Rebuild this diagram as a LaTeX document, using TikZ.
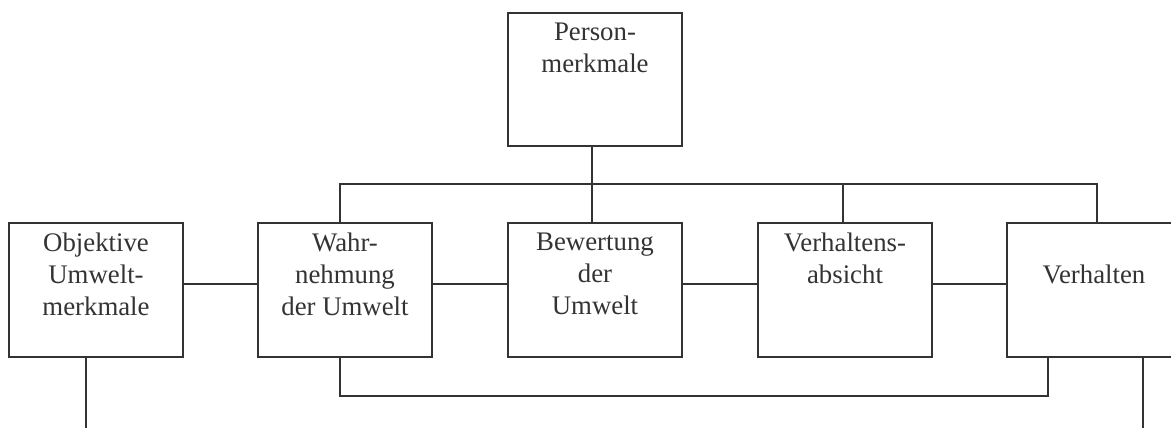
\documentclass[tikz,border=0pt]{standalone}
\usepackage{fontspec}
\setmainfont{Liberation Serif}
\definecolor{ink}{HTML}{333333}
\begin{document}
\begin{tikzpicture}[x=1pt,y=-1pt,
  box/.style={draw=ink, line width=2.3pt, minimum width=174pt, minimum height=134pt, inner sep=0pt},
  lbl/.style={text=ink, font=\fontsize{26.8}{32}\selectfont, align=center, anchor=north, inner sep=0pt},
  wire/.style={draw=ink, line width=2.3pt}]
\useasboundingbox (0,0) rectangle (1171,428);
\clip (0,0) rectangle (1171,428);
% boxes
\node[box, minimum height=133pt] (pers) at (595,79.5) {};
\node[box] (obj)  at (96,290) {};
\node[box] (wahr) at (345,290) {};
\node[box] (bew)  at (595,290) {};
\node[box] (abs)  at (845,290) {};
\node[box] (verh) at (1094,290) {};
% labels
\node[lbl] (tpers) at ([yshift=-11pt]pers.north) {Person-\\merkmale};
\node[lbl] (tobj)  at ([yshift=-11pt]obj.north) {Objektive\\Umwelt-\\merkmale};
\node[lbl] (twahr) at ([yshift=-11pt]wahr.north) {Wahr-\\nehmung\\der Umwelt};
\node[lbl] (tbew)  at ([yshift=-11pt]bew.north) {Bewertung\\der\\Umwelt};
\node[lbl] (tabs)  at ([yshift=-11pt]abs.north) {Verhaltens-\\absicht};
\node[lbl] (tverh) at ([yshift=-43pt]verh.north) {Verhalten};
% helper coordinates
\coordinate (cW) at (340,184);
\coordinate (cB) at (592,184);
\coordinate (cA) at (843,184);
\coordinate (cV) at (1097,184);
\coordinate (row) at (0,284);
\coordinate (bW) at (340,396);
\coordinate (bV) at (1048,396);
\coordinate (oEnd) at (86,432);
\coordinate (vEnd) at (1143,432);
% top distribution
\draw[wire] (pers.south -| cB) -- (bew.north -| cB);
\draw[wire] (wahr.north -| cW) -- (cW) -- (cV) -- (verh.north -| cV);
\draw[wire] (cA) -- (abs.north -| cA);
% chain
\draw[wire] (obj.east |- row) -- (wahr.west |- row);
\draw[wire] (wahr.east |- row) -- (bew.west |- row);
\draw[wire] (bew.east |- row) -- (abs.west |- row);
\draw[wire] (abs.east |- row) -- (verh.west |- row);
% feedback
\draw[wire] (wahr.south -| bW) -- (bW) -- (bV) -- (verh.south -| bV);
% outgoing lines
\draw[wire] (obj.south -| oEnd) -- (oEnd);
\draw[wire] (verh.south -| vEnd) -- (vEnd);
\end{tikzpicture}
\end{document}
